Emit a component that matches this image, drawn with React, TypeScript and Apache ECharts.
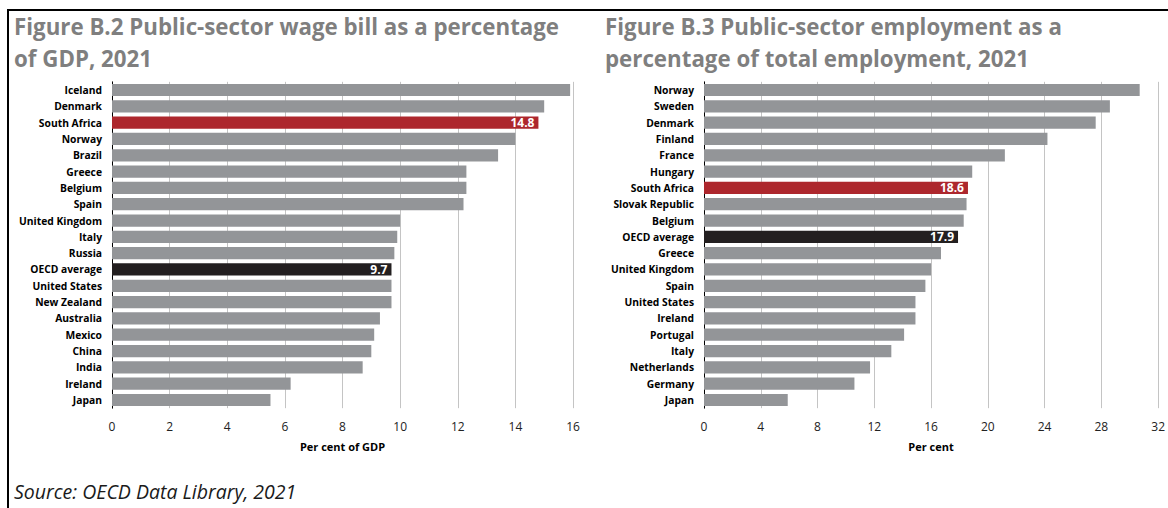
import React, { useEffect, useRef } from "react";
import * as echarts from "echarts";

const wageCategories = [
  "Iceland", "Denmark", "South Africa", "Norway", "Brazil", "Greece", "Belgium", "Spain",
  "United Kingdom", "Italy", "Russia", "OECD average", "United States", "New Zealand",
  "Australia", "Mexico", "China", "India", "Ireland", "Japan",
];
const wageValues = [
  15.9, 15.0, 14.8, 14.0, 13.4, 12.3, 12.3, 12.2, 10.0, 9.9, 9.8, 9.7, 9.7, 9.7, 9.3, 9.1, 9.0, 8.7, 6.2, 5.5,
];
const wageTicks = { min: 0, max: 16, interval: 2 };

const empCategories = [
  "Norway", "Sweden", "Denmark", "Finland", "France", "Hungary", "South Africa", "Slovak Republic",
  "Belgium", "OECD average", "Greece", "United Kingdom", "Spain", "United States", "Ireland",
  "Portugal", "Italy", "Netherlands", "Germany", "Japan",
];
const empValues = [
  30.7, 28.6, 27.6, 24.2, 21.2, 18.9, 18.6, 18.5, 18.3, 17.9, 16.7, 16.0, 15.6, 14.9, 14.9, 14.1, 13.2, 11.7, 10.6, 5.9,
];
const empTicks = { min: 0, max: 32, interval: 4 };

const FONT = "'Open Sans', Lato, sans-serif";
const GREY = "#939598";
const RED = "#ad272d";
const BLACK = "#231f20";

function barData(cats: string[], vals: number[]) {
  return vals.map((v, i) => {
    const name = cats[i];
    if (name === "South Africa" || name === "OECD average") {
      return {
        value: v,
        itemStyle: { color: name === "South Africa" ? RED : BLACK },
        label: {
          show: true,
          position: "insideRight",
          distance: 4,
          color: "#ffffff",
          fontFamily: FONT,
          fontWeight: "bold",
          fontSize: 12,
          formatter: (p: any) => p.value.toFixed(1),
        },
      };
    }
    return { value: v, itemStyle: { color: GREY } };
  });
}

export default function App() {
  const ref = useRef<HTMLDivElement>(null);

  useEffect(() => {
    if (!ref.current) return;
    const chart = echarts.init(ref.current, null, { renderer: "svg" });
    const catTop = 90;
    const catBottom = 400;
    const band = (catBottom - catTop) / (wageCategories.length - 1);
    const gridTop = catTop - band / 2;
    const gridHeight = band * wageCategories.length;

    const yAxisCommon = {
      type: "category",
      inverse: true,
      axisLine: { show: true, lineStyle: { color: "#000", width: 1 } },
      axisTick: { show: false },
      axisLabel: {
        color: "#000",
        fontFamily: FONT,
        fontWeight: "bold",
        fontSize: 10.3,
        margin: 10,
      },
    };
    const xAxisCommon = {
      type: "value",
      axisLine: { show: false },
      axisTick: { show: false },
      splitLine: { show: true, lineStyle: { color: "#c4c4c4", width: 1 } },
      axisLabel: { color: "#222", fontFamily: FONT, fontSize: 12, margin: 12 },
      nameLocation: "middle",
      nameGap: 33,
      nameTextStyle: { color: "#000", fontFamily: FONT, fontWeight: "bold", fontSize: 11 },
    };

    chart.setOption({
      animation: false,
      backgroundColor: "#ffffff",
      title: [
        {
          text: "Figure B.2 Public-sector wage bill as a percentage\nof GDP, 2021",
          left: 9,
          top: 5,
          textStyle: { fontFamily: FONT, fontSize: 22.3, fontWeight: "bold", color: "#7f7f7f", lineHeight: 32 },
        },
        {
          text: "Figure B.3 Public-sector employment as a\npercentage of total employment, 2021",
          left: 600,
          top: 5,
          textStyle: { fontFamily: FONT, fontSize: 22.3, fontWeight: "bold", color: "#7f7f7f", lineHeight: 32 },
        },
        {
          text: "Source: OECD Data Library, 2021",
          left: 9,
          top: 476,
          textStyle: { fontFamily: FONT, fontSize: 19.5, fontStyle: "italic", fontWeight: "normal", color: "#1a1a1a" },
        },
      ],
      graphic: [
        { type: "rect", shape: { x: 7, y: 9, width: 1161, height: 2 }, style: { fill: "#000" } },
        { type: "rect", shape: { x: 7, y: 9, width: 2, height: 499 }, style: { fill: "#000" } },
      ],
      grid: [
        { left: 112, top: gridTop, width: 461, height: gridHeight },
        { left: 704, top: gridTop, width: 461, height: gridHeight },
      ],
      xAxis: [
        { ...xAxisCommon, gridIndex: 0, ...wageTicks, name: "Per cent of GDP" },
        { ...xAxisCommon, gridIndex: 1, ...empTicks, name: "Per cent" },
      ],
      yAxis: [
        { ...yAxisCommon, gridIndex: 0, data: wageCategories },
        { ...yAxisCommon, gridIndex: 1, data: empCategories },
      ],
      series: [
        {
          type: "bar",
          xAxisIndex: 0,
          yAxisIndex: 0,
          barWidth: "75%",
          data: barData(wageCategories, wageValues),
        },
        {
          type: "bar",
          xAxisIndex: 1,
          yAxisIndex: 1,
          barWidth: "75%",
          data: barData(empCategories, empValues),
        },
      ],
    });
    return () => chart.dispose();
  }, []);

  return (
    <div
      ref={ref}
      style={{ position: "fixed", left: 0, top: 0, width: 1168, height: 508, background: "#fff" }}
    />
  );
}
